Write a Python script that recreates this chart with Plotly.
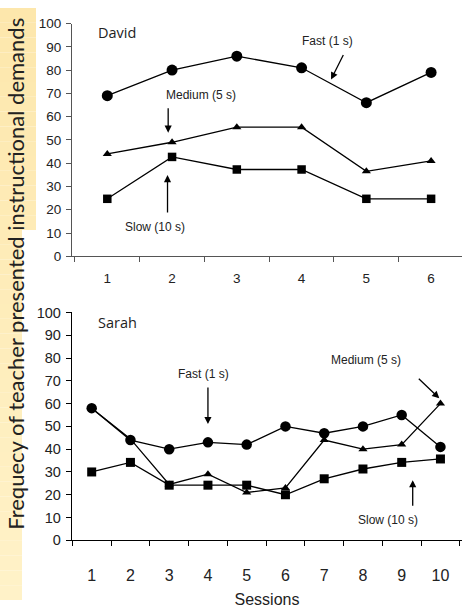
import plotly.graph_objects as go

# ---------------- data ----------------
david_sessions = [1, 2, 3, 4, 5, 6]
david_fast = [69, 80, 86, 81, 66, 79]
david_medium = [44, 49, 55.5, 55.5, 36.5, 41]
david_slow = [24.7, 42.7, 37.3, 37.3, 24.7, 24.7]

sarah_sessions = [1, 2, 3, 4, 5, 6, 7, 8, 9, 10]
sarah_fast = [58, 44, 40, 43, 42, 50, 47, 50, 55, 41]
sarah_medium = [58, 44.5, 24.5, 29, 21, 23, 44, 40, 42, 60]
sarah_slow = [30, 34.2, 24.2, 24.2, 24.2, 20, 27, 31.3, 34.2, 35.7]

y_ticks = [0, 10, 20, 30, 40, 50, 60, 70, 80, 90, 100]

W, H = 462, 608

fig = go.Figure()

def add_series(xs, ys, symbol, size, xa, ya):
    fig.add_trace(go.Scatter(
        x=xs, y=ys, mode="lines+markers", xaxis=xa, yaxis=ya,
        line=dict(color="black", width=1.3),
        marker=dict(symbol=symbol, size=size, color="black",
                    line=dict(color="black", width=0)),
        showlegend=False, cliponaxis=False))

add_series(david_sessions, david_fast, "circle", 11, "x", "y")
add_series(david_sessions, david_medium, "triangle-up", 8, "x", "y")
add_series(david_sessions, david_slow, "square", 8.5, "x", "y")

add_series(sarah_sessions, sarah_fast, "circle", 10.5, "x2", "y2")
add_series(sarah_sessions, sarah_medium, "triangle-up", 8, "x2", "y2")
add_series(sarah_sessions, sarah_slow, "square", 9, "x2", "y2")

# -------------- background band --------------
shapes = []
n = 40
top_c = (253, 231, 172)
bot_c = (255, 242, 200)
for i in range(n):
    y0 = i * H / n
    y1 = (i + 1) * H / n
    t = (i + 0.5) / n
    c = tuple(int(round(top_c[k] + (bot_c[k] - top_c[k]) * t)) for k in range(3))
    width_px = 36 if y1 <= 243 else 22
    shapes.append(dict(type="rect", xref="paper", yref="paper", layer="below",
                       x0=0, x1=width_px / W, y0=1 - y1 / H, y1=1 - y0 / H,
                       fillcolor="rgb(%d,%d,%d)" % c, line=dict(width=0)))

def px_x(p):
    return p / W

def px_y(p):
    return 1 - p / H

axis_font_top = dict(family="Arial", size=13.5, color="#222")
axis_font_bot_y = dict(family="Arial", size=14.5, color="#222")
axis_font_bot_x = dict(family="Arial", size=16, color="#222")

fig.update_layout(
    width=W, height=H,
    margin=dict(l=0, r=0, t=0, b=0),
    paper_bgcolor="white", plot_bgcolor="rgba(0,0,0,0)",
    shapes=shapes,
    xaxis=dict(domain=[px_x(72), 1], range=[0.455, 6.477], anchor="y",
               tickvals=david_sessions, ticktext=[str(s) for s in david_sessions],
               ticks="", showgrid=False, zeroline=False, showline=True,
               linecolor="#555", linewidth=1.2, tickfont=axis_font_top,
               ticklabelstandoff=9,
               minor=dict(tick0=0.5, dtick=1, ticks="outside", ticklen=5,
                          tickcolor="#555", tickwidth=1, showgrid=False)),
    yaxis=dict(domain=[px_y(255), px_y(16)], range=[0, 100], anchor="x",
               tickvals=y_ticks, ticks="outside", ticklen=5, tickcolor="#555",
               showgrid=False, zeroline=False, showline=True, linecolor="#555",
               linewidth=1.2, tickfont=axis_font_top, ticklabelstandoff=2),
    xaxis2=dict(domain=[px_x(72), 1], range=[0.492, 10.556], anchor="y2",
                tickvals=sarah_sessions, ticktext=[str(s) for s in sarah_sessions],
                ticks="", showgrid=False, zeroline=False, showline=True,
                linecolor="black", linewidth=1.3, tickfont=axis_font_bot_x,
                ticklabelstandoff=20,
                title=dict(text="Sessions", font=dict(family="Arial", size=16, color="#222"),
                           standoff=12),
                minor=dict(tick0=0.5, dtick=1, ticks="outside", ticklen=5,
                           tickcolor="black", tickwidth=1, showgrid=False)),
    yaxis2=dict(domain=[px_y(546.7), px_y(312.7)], range=[0, 100], anchor="x2",
                tickvals=y_ticks, ticks="outside", ticklen=5, tickcolor="black",
                showgrid=False, zeroline=False, showline=True, linecolor="black",
                linewidth=1.3, tickfont=axis_font_bot_y, ticklabelstandoff=2),
)

lab_font = dict(family="Arial", size=12, color="#222")
name_font = dict(family="Open Sans", size=14.5, color="#222")

ann = []
# Panel names
ann.append(dict(x=0.825, y=96.2, xref="x", yref="y", text="David", showarrow=False,
                xanchor="left", yanchor="middle", font=name_font))
ann.append(dict(x=1.11, y=95.6, xref="x2", yref="y2", text="Sarah", showarrow=False,
                xanchor="left", yanchor="middle", font=name_font))

# Top labels
ann.append(dict(x=2.447, y=69.5, xref="x", yref="y", text="Medium (5 s)", showarrow=False, font=lab_font))
ann.append(dict(x=1.744, y=12.6, xref="x", yref="y", text="Slow (10 s)", showarrow=False, font=lab_font))
ann.append(dict(x=4.393, y=92.5, xref="x", yref="y", text="Fast (1 s)", showarrow=False, font=lab_font))
# Bottom labels
ann.append(dict(x=3.898, y=73.1, xref="x2", yref="y2", text="Fast (1 s)", showarrow=False, font=lab_font))
ann.append(dict(x=8.079, y=79.1, xref="x2", yref="y2", text="Medium (5 s)", showarrow=False, font=lab_font))
ann.append(dict(x=8.64, y=8.85, xref="x2", yref="y2", text="Slow (10 s)", showarrow=False, font=lab_font))

def arrow(x, y, ax, ay, xr, yr):
    return dict(x=x, y=y, xref=xr, yref=yr, ax=ax, ay=ay, text="", showarrow=True,
                arrowhead=2, arrowsize=1.1, arrowwidth=1.3, arrowcolor="black",
                font=dict(size=1), standoff=0, startstandoff=0)

ann.append(arrow(1.94, 53.1, 0, -26, "x", "y"))
ann.append(arrow(1.93, 34.9, 0, 39, "x", "y"))
ann.append(arrow(4.455, 76.0, 13, -26, "x", "y"))
ann.append(arrow(4.0, 51.0, 0, -38, "x2", "y2"))
ann.append(arrow(9.97, 62.3, -22, -21, "x2", "y2"))
ann.append(arrow(9.284, 26.4, 0, 27, "x2", "y2"))

# Y title
ann.append(dict(x=px_x(16), y=px_y(273), xref="paper", yref="paper",
                text="Frequecy of teacher presented instructional demands",
                textangle=-90, showarrow=False, xanchor="center", yanchor="middle",
                font=dict(family="Lato", size=22, color="#222")))

fig.update_layout(annotations=ann)

fig.write_html("out.html")
